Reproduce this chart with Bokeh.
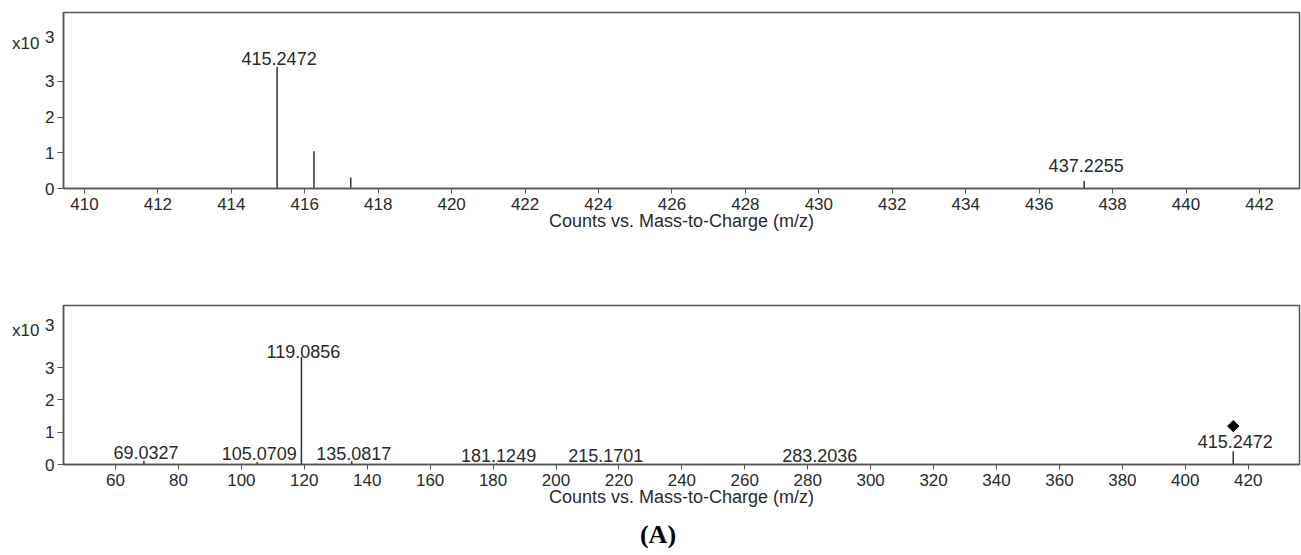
from bokeh.plotting import figure
from bokeh.layouts import column
from bokeh.models import ColumnDataSource, FixedTicker, LinearAxis, Range1d
from bokeh.embed import file_html
from bokeh.resources import INLINE
from bokeh.core.properties import value
import math

# ---------------- data (counts in units of 10^3) ----------------
ms1_mz = [415.2472, 416.2505, 417.2530, 437.2255]
ms1_counts = [3.40, 1.04, 0.31, 0.21]
ms1_labels = ["415.2472", "", "", "437.2255"]
ms1_xticks = list(range(410, 443, 2))

ms2_mz = [69.0327, 105.0709, 119.0856, 135.0817, 181.1249, 215.1701, 283.2036, 415.2472]
ms2_counts = [0.12, 0.08, 3.33, 0.10, 0.03, 0.02, 0.02, 0.41]
ms2_labels = ["69.0327", "105.0709", "119.0856", "135.0817", "181.1249", "215.1701", "283.2036", "415.2472"]
ms2_xticks = list(range(60, 421, 20))
precursor_mz = [415.2472]
precursor_y = [1.19]

yticks = [0, 1, 2, 3]
exponent_text = "x10"
exponent_sup = "3"

# label lift above each peak top (screen px, style only)
ms1_label_lift = [-9, 0, 0, -16]
ms2_label_lift = [-8, -8, -6, -8, -8, -8, -8, -10]

FONT = "Liberation Sans"
TXT = "#2a2a2a"
LINE = "#333333"
FRAME = "#555555"


def style_label_axis(ax, size="17px"):
    ax.major_label_text_font = FONT
    ax.major_label_text_font_size = size
    ax.major_label_text_color = TXT
    ax.major_tick_line_color = None
    ax.minor_tick_line_color = None
    ax.axis_line_color = None
    ax.major_tick_in = 0
    ax.major_tick_out = 0
    ax.minor_tick_in = 0
    ax.minor_tick_out = 0


def make_panel(mz, counts, labels, lift, xr, xticks, height, top, left, y_x10, y_sup):
    p = figure(width=1301, height=height, output_backend="svg", toolbar_location=None,
               x_range=Range1d(*xr), y_range=Range1d(0, 4.93),
               min_border_top=top, min_border_left=left, min_border_right=2,
               min_border_bottom=52)
    p.grid.visible = False
    p.outline_line_color = FRAME
    p.outline_line_width = 1.5
    p.background_fill_color = "white"
    p.border_fill_color = "white"

    src = ColumnDataSource(dict(mz=mz, c=counts, z=[0] * len(mz)))
    p.segment(x0="mz", y0="z", x1="mz", y1="c", source=src, line_color=LINE, line_width=1.5)
    keep = [i for i, l in enumerate(labels) if l]
    lsrc = ColumnDataSource(dict(mz=[mz[i] for i in keep],
                                 c=[counts[i] for i in keep],
                                 lab=[labels[i] for i in keep],
                                 dy=[lift[i] for i in keep]))
    p.text(x="mz", y="c", text="lab", source=lsrc, text_align="center",
           text_baseline="alphabetic", x_offset=2, y_offset="dy", text_font=value(FONT),
           text_font_size="18px", text_color=TXT)

    xa = p.xaxis[0]
    xa.ticker = FixedTicker(ticks=xticks)
    xa.axis_label = "Counts vs. Mass-to-Charge (m/z)"
    xa.axis_label_text_font = FONT
    xa.axis_label_text_font_style = "normal"
    xa.axis_label_text_font_size = "18px"
    xa.axis_label_text_color = TXT
    xa.axis_label_standoff = -2
    xa.major_label_text_font = FONT
    xa.major_label_text_font_size = "17px"
    xa.major_label_text_color = TXT
    xa.major_label_standoff = 4
    xa.major_tick_in = 0
    xa.major_tick_out = 5
    xa.minor_tick_line_color = None
    xa.axis_line_color = FRAME
    xa.axis_line_width = 1.5
    xa.major_tick_line_color = FRAME

    # main y axis: line and tick marks only
    ya = p.yaxis[0]
    ya.ticker = FixedTicker(ticks=yticks)
    ya.major_label_overrides = {t: "" for t in yticks}
    ya.major_label_standoff = 0
    ya.major_tick_in = 0
    ya.major_tick_out = 6
    ya.minor_tick_line_color = None
    ya.axis_line_color = FRAME
    ya.axis_line_width = 1.5
    ya.major_tick_line_color = FRAME

    # tick labels plus the superscript exponent
    lab_ax = LinearAxis(ticker=FixedTicker(ticks=yticks + [y_sup]))
    ov = {t: str(t) for t in yticks}
    ov[y_sup] = exponent_sup
    lab_ax.major_label_overrides = ov
    lab_ax.major_label_standoff = 3
    style_label_axis(lab_ax)
    p.add_layout(lab_ax, "left")

    # "x10" multiplier
    x10_ax = LinearAxis(ticker=FixedTicker(ticks=[y_x10]))
    x10_ax.major_label_overrides = {y_x10: exponent_text}
    x10_ax.major_label_standoff = 3
    style_label_axis(x10_ax)
    p.add_layout(x10_ax, "left")
    return p


p1 = make_panel(ms1_mz, ms1_counts, ms1_labels, ms1_label_lift, (409.43, 443.09), ms1_xticks,
                240, 12, 63, 4.07, 4.23)
p2 = make_panel(ms2_mz, ms2_counts, ms2_labels, ms2_label_lift, (43.47, 436.3), ms2_xticks,
                276, 65, 63, 4.16, 4.32)
p2.scatter(x=precursor_mz, y=precursor_y, marker="square", size=8, angle=math.pi / 4,
           fill_color="black", line_color="black")

p3 = figure(width=1301, height=39, output_backend="svg", toolbar_location=None,
            x_range=Range1d(63, 1299), y_range=Range1d(0, 39),
            min_border_left=63, min_border_right=2, min_border_top=0, min_border_bottom=0)
p3.axis.visible = False
p3.grid.visible = False
p3.outline_line_color = None
p3.text(x=[657.5], y=[21], text=["(A)"], text_align="center", text_baseline="middle",
        text_font=value("Liberation Serif"), text_font_style="bold", text_font_size="26px",
        text_color="black")

layout = column(p1, p2, p3, spacing=0)
open("out.html", "w").write(file_html(layout, INLINE))
